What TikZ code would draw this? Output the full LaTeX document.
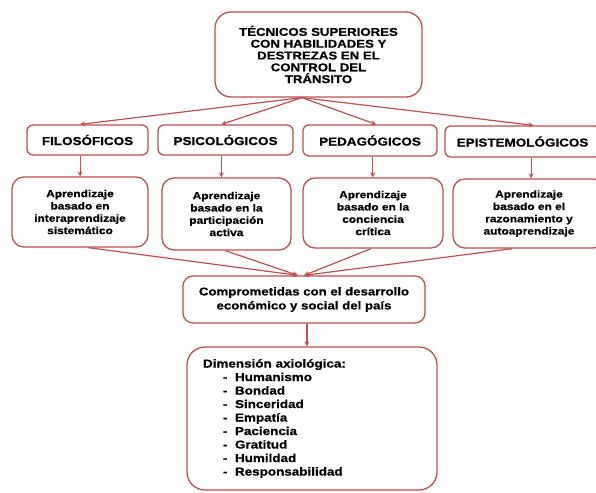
\documentclass[tikz,border=0pt]{standalone}
\usepackage{fontspec}
\setmainfont{Liberation Sans}[FakeStretch=1.17, BoldFeatures={FakeBold=0.8}]
\usetikzlibrary{arrows.meta,calc}
\definecolor{boxred}{RGB}{192,80,77}
\tikzset{
  box/.style={draw=boxred, line width=1.3pt, fill=white, align=center, inner sep=0pt},
  conn/.style={draw=boxred, line width=1.2pt, -{Stealth[length=5pt,width=5pt]}},
  ftop/.style={font=\fontsize{11.3}{11.8}\selectfont\bfseries},
  fcat/.style={font=\fontsize{11.5}{13}\selectfont\bfseries},
  fsub/.style={font=\fontsize{10.2}{12.3}\selectfont\bfseries},
  fcom/.style={font=\fontsize{11.3}{14}\selectfont\bfseries},
  fbot/.style={font=\fontsize{11.5}{13.5}\selectfont\bfseries}
}
\newcommand{\itm}[1]{\hspace*{20pt}\makebox[12pt][l]{-}#1}
\begin{document}
\begin{tikzpicture}[x=1pt,y=-1pt]
\clip (0,0) rectangle (596,492);
\fill[white] (0,0) rectangle (596,492);

% top
\node[box, ftop, rounded corners=16pt, minimum width=207pt, minimum height=85pt] (top) at (318.5,54.5)
  {TÉCNICOS SUPERIORES\\CON HABILIDADES Y\\DESTREZAS EN EL\\CONTROL DEL\\TRÁNSITO};

% row 2
\node[box, fcat, rounded corners=6pt, minimum width=121pt, minimum height=30pt] (filos) at (87.5,140) {FILOSÓFICOS};
\node[box, fcat, rounded corners=6pt, minimum width=135pt, minimum height=30pt] (psico) at (225.5,140) {PSICOLÓGICOS};
\node[box, fcat, rounded corners=6pt, minimum width=134pt, minimum height=31pt] (pedag) at (370,140.5) {PEDAGÓGICOS};
\node[box, fcat, rounded corners=6pt, minimum width=155pt, minimum height=31pt] (epist) at (522.5,141.5) {EPISTEMOLÓGICOS};

% row 3
\node[box, fsub, rounded corners=12pt, minimum width=136pt, minimum height=70pt] (b1) at (80,212)
  {Aprendizaje\\basado en\\interaprendizaje\\sistemático};
\node[box, fsub, rounded corners=12pt, minimum width=129pt, minimum height=72pt] (b2) at (226.5,214)
  {Aprendizaje\\basado en la\\participación\\activa};
\node[box, fsub, rounded corners=12pt, minimum width=140pt, minimum height=70pt] (b3) at (373,213)
  {Aprendizaje\\basado en la\\conciencia\\crítica};
\node[box, fsub, rounded corners=12pt, minimum width=152pt, minimum height=69pt] (b4) at (529,213.5)
  {Aprendizaje\\basado en el\\razonamiento y\\autoaprendizaje};

% compromet
\node[box, fcom, rounded corners=10pt, minimum width=242pt, minimum height=47pt] (comp) at (304,299.5)
  {Comprometidas con el desarrollo\\económico y social del país};

% bottom
\node[box, fbot, rounded corners=18pt, minimum width=250pt, minimum height=143pt, text width=218pt, align=left] (bot) at (312,418.5)
  {Dimensión axiológica:\\
   \itm{Humanismo}\\
   \itm{Bondad}\\
   \itm{Sinceridad}\\
   \itm{Empatía}\\
   \itm{Paciencia}\\
   \itm{Gratitud}\\
   \itm{Humildad}\\
   \itm{Responsabilidad}};

% connectors top -> row2
\coordinate (ts) at ($(top.south west)!0.42!(top.south east)$);
\draw[conn] (ts) -- ($(filos.north west)!0.44!(filos.north east)$);
\draw[conn] (ts) -- ($(psico.north west)!0.47!(psico.north east)$);
\draw[conn] (ts) -- ($(pedag.north west)!0.545!(pedag.north east)$);
\draw[conn] (ts) -- ($(epist.north west)!0.57!(epist.north east)$);

% row2 -> row3
\coordinate (v1) at ($(filos.south west)!0.44!(filos.south east)$);
\draw[conn] (v1) -- (v1 |- b1.north);
\coordinate (v2) at ($(psico.south west)!0.47!(psico.south east)$);
\draw[conn] (v2) -- (v2 |- b2.north);
\coordinate (v3) at ($(pedag.south west)!0.52!(pedag.south east)$);
\draw[conn] (v3) -- (v3 |- b3.north);
\coordinate (v4) at ($(epist.south west)!0.555!(epist.south east)$);
\draw[conn] (v4) -- (v4 |- b4.north);

% row3 -> comp
\coordinate (cl) at ($(comp.north west)!0.475!(comp.north east)$);
\coordinate (cr) at ($(comp.north west)!0.5!(comp.north east)$);
\draw[conn] ($(b1.south west)!0.56!(b1.south east)$) -- (cl);
\draw[conn] ($(b2.south west)!0.49!(b2.south east)$) -- (cl);
\draw[conn] ($(b3.south west)!0.486!(b3.south east)$) -- (cr);
\draw[conn] ($(b4.south west)!0.39!(b4.south east)$) -- (cr);

% comp -> bottom
\coordinate (cb) at ($(comp.south west)!0.512!(comp.south east)$);
\draw[conn] (cb) -- (cb |- bot.north);
\end{tikzpicture}
\end{document}
